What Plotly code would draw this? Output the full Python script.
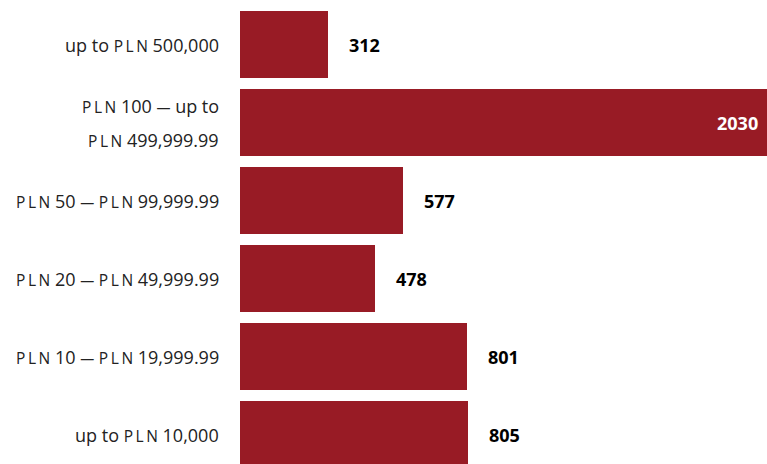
import plotly.graph_objects as go

# Loan amount brackets, top to bottom
categories = [
    "up to PLN 500,000",
    "PLN 100 – up to PLN 499,999.99",
    "PLN 50 – PLN 99,999.99",
    "PLN 20 – PLN 49,999.99",
    "PLN 10 – PLN 19,999.99",
    "up to PLN 10,000",
]
# Displayed category labels (lines), with "PLN" set in small caps
label_lines = [
    ["up to PLN 500,000"],
    ["PLN 100 – up to", "PLN 499,999.99"],
    ["PLN 50 – PLN 99,999.99"],
    ["PLN 20 – PLN 49,999.99"],
    ["PLN 10 – PLN 19,999.99"],
    ["up to PLN 10,000"],
]
values = [312, 2030, 577, 478, 801, 805]

BAR_COLOR = "#981B25"
TEXT_COLOR = "#222222"
FONT = "Open Sans"
X_MAX = 1861  # the longest bar runs past the right edge

THIN = "\u2009"
SMALL_PLN = "<span style='font-size:15.5px'>" + THIN.join("PLN") + "</span>"
DASH = "<span style='font-size:14px'>—</span>"


def small_caps(s):
    return s.replace("PLN", SMALL_PLN).replace("–", DASH)


fig = go.Figure(
    go.Bar(
        x=values,
        y=list(range(len(categories))),
        orientation="h",
        marker=dict(color=BAR_COLOR, line=dict(width=0)),
        width=0.86,
        hoverinfo="skip",
    )
)

annotations = []
for i, (lines, v) in enumerate(zip(label_lines, values)):
    # category labels to the left of the bars
    n = len(lines)
    for j, line in enumerate(lines):
        annotations.append(dict(
            x=0, xref="x", y=i, yref="y",
            text=small_caps(line), showarrow=False,
            xanchor="right", yanchor="middle", xshift=-19,
            yshift=(n - 1) * 17 - j * 34,
            font=dict(family=FONT, size=18, color=TEXT_COLOR),
        ))
    # value labels
    if v > X_MAX:
        annotations.append(dict(
            x=X_MAX, xref="x", y=i, yref="y", text=f"<b>{v}</b>",
            showarrow=False, xanchor="right", yanchor="middle", xshift=-7,
            font=dict(family=FONT, size=18, color="white"),
        ))
    else:
        annotations.append(dict(
            x=v, xref="x", y=i, yref="y", text=f"<b>{v}</b>",
            showarrow=False, xanchor="left", yanchor="middle", xshift=19,
            font=dict(family=FONT, size=18, color="black"),
        ))

fig.update_layout(
    width=767, height=464,
    margin=dict(l=240, r=0, t=0, b=0),
    paper_bgcolor="white", plot_bgcolor="white",
    showlegend=False,
    bargap=0,
    annotations=annotations,
    xaxis=dict(range=[0, X_MAX], visible=False, fixedrange=True),
    yaxis=dict(range=[5.378, -0.5705], visible=False, fixedrange=True),
)

fig.write_html("out.html", config={"displayModeBar": False})
